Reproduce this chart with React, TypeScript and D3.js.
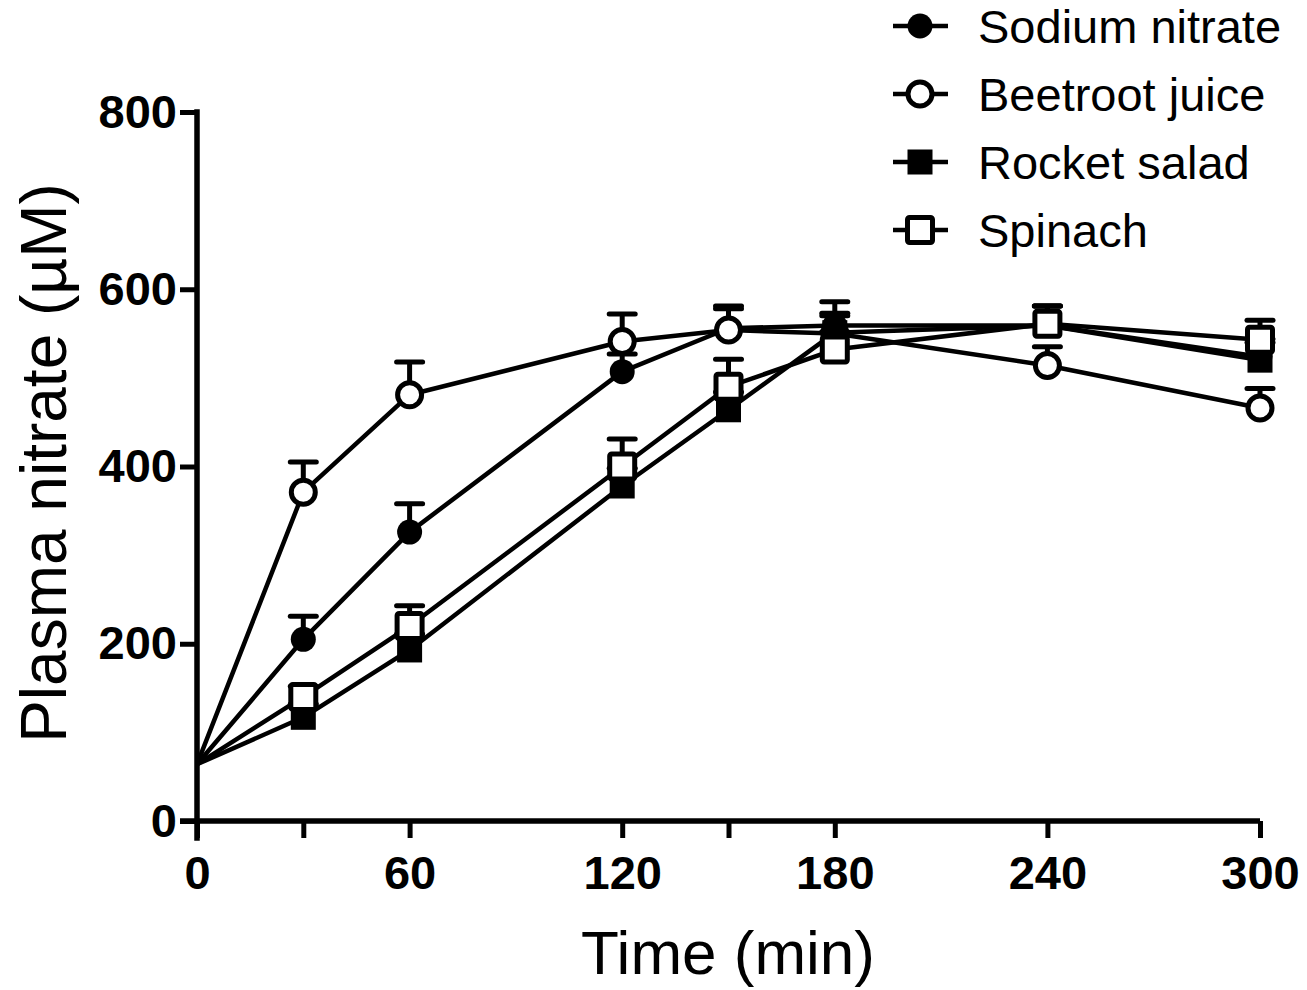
import React, { useEffect, useRef } from 'react';
import * as d3 from 'd3';

const times = [0, 30, 60, 120, 150, 180, 240, 300];
const tickLabels = ['0', '', '60', '120', '', '180', '240', '300'];
const yTicks = [0, 200, 400, 600, 800];

const sodiumMean = [64, 205, 326, 507, 556, 559, 559, 524];
const sodiumErr = [0, 26, 32, 20, 22, 27, 22, 20];
const beetrootMean = [64, 371, 481, 541, 554, 550, 514, 466];
const beetrootErr = [0, 34, 37, 31, 27, 20, 21, 22];
const rocketMean = [64, 117, 193, 378, 464, 551, 559, 520];
const rocketErr = [0, 15, 18, 20, 20, 22, 22, 20];
const spinachMean = [64, 140, 220, 400, 490, 532, 561, 543];
const spinachErr = [0, 12, 23, 31, 31, 20, 20, 22];

const seriesNames = ['Sodium nitrate', 'Beetroot juice', 'Rocket salad', 'Spinach'];
const seriesShapes = ['filledCircle', 'openCircle', 'filledSquare', 'openSquare'];

const W = 1307;
const H = 990;

const App = () => {
    const ref = useRef(null);

    useEffect(() => {
        const svg = d3.select(ref.current);
        svg.selectAll('*').remove();

        const x = d3.scaleLinear().domain([0, 300]).range([197, 1260]);
        const y = d3.scaleLinear().domain([0, 800]).range([821, 112]);

        const series = [
            { name: seriesNames[0], shape: seriesShapes[0], mean: sodiumMean, err: sodiumErr },
            { name: seriesNames[1], shape: seriesShapes[1], mean: beetrootMean, err: beetrootErr },
            { name: seriesNames[2], shape: seriesShapes[2], mean: rocketMean, err: rocketErr },
            { name: seriesNames[3], shape: seriesShapes[3], mean: spinachMean, err: spinachErr },
        ];

        const drawMarker = (g, shape, cx, cy) => {
            if (shape === 'filledCircle') {
                g.append('circle').attr('cx', cx).attr('cy', cy).attr('r', 12.5).attr('fill', '#000');
            } else if (shape === 'openCircle') {
                g.append('circle').attr('cx', cx).attr('cy', cy).attr('r', 12)
                    .attr('fill', '#fff').attr('stroke', '#000').attr('stroke-width', 5);
            } else if (shape === 'filledSquare') {
                g.append('rect').attr('x', cx - 12.5).attr('y', cy - 12.5).attr('width', 25).attr('height', 25).attr('fill', '#000');
            } else {
                g.append('rect').attr('x', cx - 12.5).attr('y', cy - 12.5).attr('width', 25).attr('height', 25)
                    .attr('rx', 2).attr('fill', '#fff').attr('stroke', '#000').attr('stroke-width', 5);
            }
        };

        // axes
        const yAxis = d3.axisLeft(y).tickValues(yTicks).tickSize(17).tickPadding(3).tickFormat(d3.format('d'));
        const gy = svg.append('g').attr('transform', `translate(${x(0)},0)`).call(yAxis);
        gy.select('.domain').attr('d', `M0,${y(800)}V${y(0) + 17}`).attr('stroke-width', 5.5).attr('stroke-linecap', 'square');
        gy.selectAll('.tick line').attr('stroke-width', 5);
        gy.selectAll('.tick text')
            .attr('font-family', 'Liberation Sans, Arial, sans-serif')
            .attr('font-weight', 'bold').attr('font-size', 47).attr('fill', '#000');

        const xAxis = d3.axisBottom(x).tickValues(times).tickSize(17).tickPadding(18)
            .tickFormat((d, i) => tickLabels[i]);
        const gx = svg.append('g').attr('transform', `translate(0,${y(0)})`).call(xAxis);
        gx.select('.domain').attr('d', `M${x(0) - 17},0H${x(300)}`).attr('stroke-width', 5.5);
        gx.selectAll('.tick line').attr('stroke-width', 5);
        gx.selectAll('.tick text')
            .attr('font-family', 'Liberation Sans, Arial, sans-serif')
            .attr('font-weight', 'bold').attr('font-size', 47).attr('fill', '#000');

        // lines and error bars
        const line = d3.line().x(d => x(d[0])).y(d => y(d[1]));
        series.forEach(s => {
            const g = svg.append('g');
            const pts = times.map((t, i) => [t, s.mean[i]]);
            g.append('path').attr('d', line(pts)).attr('fill', 'none')
                .attr('stroke', '#000').attr('stroke-width', 4.5).attr('stroke-linejoin', 'round');
            times.forEach((t, i) => {
                if (!s.err[i]) return;
                const top = y(s.mean[i] + s.err[i]);
                g.append('line').attr('x1', x(t)).attr('x2', x(t)).attr('y1', y(s.mean[i])).attr('y2', top)
                    .attr('stroke', '#000').attr('stroke-width', 5);
                g.append('line').attr('x1', x(t) - 13).attr('x2', x(t) + 13).attr('y1', top).attr('y2', top)
                    .attr('stroke', '#000').attr('stroke-width', 5).attr('stroke-linecap', 'round');
            });
            times.forEach((t, i) => {
                if (i === 0) return;
                drawMarker(g, s.shape, x(t), y(s.mean[i]));
            });
        });

        // legend
        const lg = svg.append('g');
        series.forEach((s, i) => {
            const cy = 26 + i * 68;
            lg.append('line').attr('x1', 893).attr('x2', 948).attr('y1', cy).attr('y2', cy)
                .attr('stroke', '#000').attr('stroke-width', 4.5);
            drawMarker(lg, s.shape, 920, cy);
            lg.append('text').attr('x', 978).attr('y', cy).attr('dy', '0.36em')
                .attr('font-family', 'Liberation Sans, Arial, sans-serif')
                .attr('font-size', 47).attr('fill', '#000').text(s.name);
        });

        // axis titles
        svg.append('text').attr('x', 728).attr('y', 974).attr('text-anchor', 'middle')
            .attr('font-family', 'Liberation Sans, Arial, sans-serif').attr('font-size', 62)
            .attr('fill', '#000').text('Time (min)');
        svg.append('text').attr('transform', `translate(66,463) rotate(-90)`).attr('text-anchor', 'middle')
            .attr('font-family', 'Liberation Sans, Arial, sans-serif').attr('font-size', 64)
            .attr('fill', '#000').text('Plasma nitrate (µM)');
    }, []);

    return (
        <svg ref={ref} width={W} height={H} style={{ position: 'absolute', left: 0, top: 0, background: '#fff' }}></svg>
    );
};

export default App;
